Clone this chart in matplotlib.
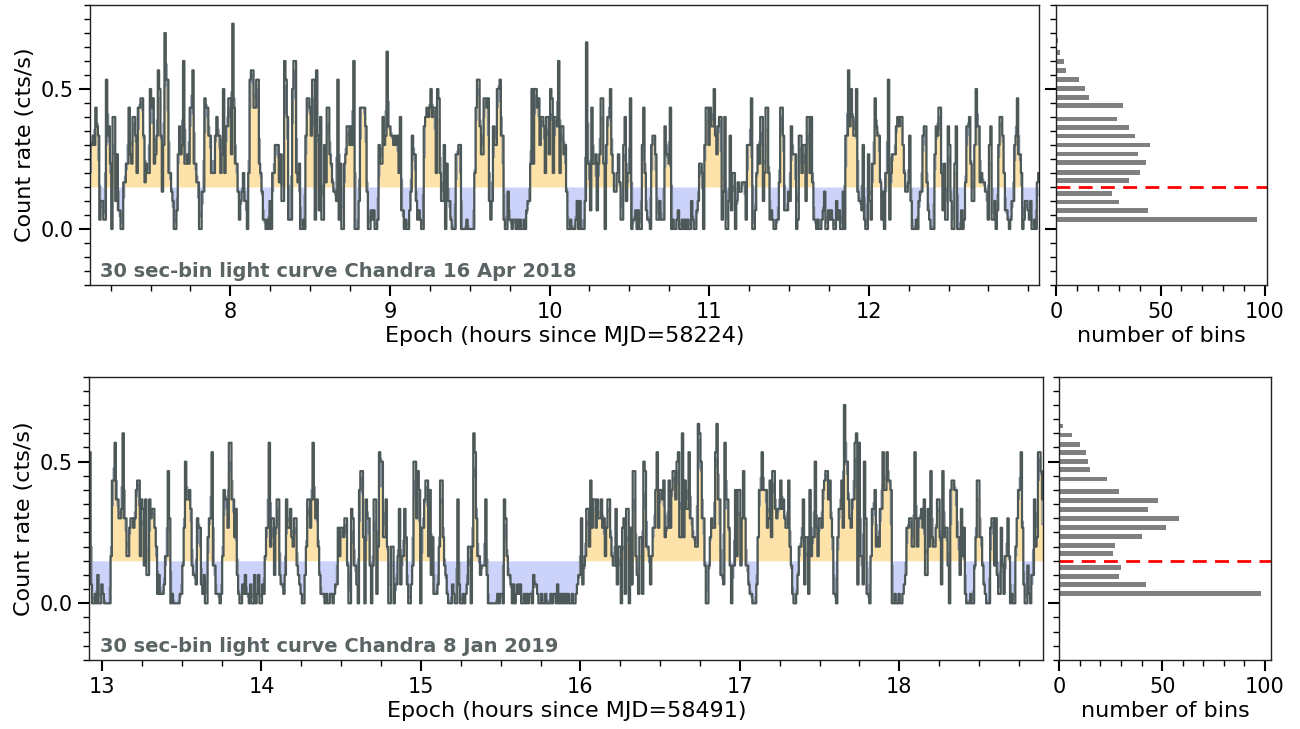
import numpy as np
import matplotlib
matplotlib.use('Agg')
import matplotlib.pyplot as plt
from matplotlib.ticker import MultipleLocator, FixedLocator

# photon counts per 30 s bin, one base-36 digit per bin (0-9, a=10 ... m=22)
apr2018_counts = (
    "99a9 dba 13311 gab70 cc382200 5577 d87cca6 ddeea5766 fde78ahf a49lgg6643 0028b89 i7787ddh77 550044edd "
    "aa666acaa68 f6bbee8md77 413463306 ghhddgg7641 1010306699 "
    "95833 igc11 1fii6 57001 0aeed agg1h a2c11 95dd8 75443 g1700 78bb9 b9i00 03ddd db400 21200 1977c 9ajbb "
    "aa9a9 a6c22 01002 4a883 12100 bcdcd fcdd6 fe633 90733 10008 89900 00100 "
    "0006d ggb88 eede3 13b99 ffgaa 10041 10110 10100 10233 7f7ff de9cc b6cc8 fe6cc bi6bb 89400 10001 30300 "
    "03k77 2d778 278ee 709cc f8644 68511 9c366 e0112 02009 d6211 09aa8 11311 "
    "1b887 d0100 12001 01010 03100 23776 09dd9 dbbfa 8bcc1 4c003 a2660 35445 55199 9e002 697cc 36dd6 12100 "
    "115dd a2224 3b888 01aa6 993cc 6c511 01001 24002 12100 31200 40aah bfcaa "
    "f4332 91008 3177e baa51 4066g 16888 bcbcc 96445 a3000 10344 abb52 10008 badd6 2711b 93007 b0002 015bb "
    "c7339 fbb56 55441 9b113 029cc a6221 01339 ae886 01332 13001 056"
)
jan2019_counts = (
    "g2001 03002 10000 05ddh bb99a i9955 89989 cdd5b a4b33 b9aa8 61311 1255e 90100 00011 48fbb ca433 29882 "
    "13007 99g44 11101 5cbb8 hhbb7 a3100 21311 02003 01300 21588 h6993 8b "
    "b3221 3b88a 76994 32100 36bb8 bhb9b 63111 01001 10122 85887 99400 a9442 0cee7 0b994 04bb1 6gff7 7b600 "
    "66022 5a255 a7200 24ff9 ec088 bdd5c 37111 26dd7 43100 02100 b2001 01266 "
    "06ig9 55344 4b300 00000 10110 b9533 20201 21200 10101 10322 10010 01000 10110 20101 01010 01001 23392 "
    "45aa6 d8bb8 b99b8 958bb 7544a 26608 91aa0 82ee5 31771 fe665 2588c g8ccb "
    "d788d 8ceeb fg77i 7daag 99776 6jif9 94004 7988g jbb33 2hbb8 4044c 5cc49 e9442 11000 27ccg ccc89 d7eea "
    "9aada b988d 64100 13667 b2771 c577f 85998 cdeeb d9711 07aad 8lffb 98bbh "
    "i2h55 2f911 05aac 676aa gccgd dc001 00100 12388 9966g 9699a 8b33a 6e766 8bb72 e7884 0cddc c773a 58100 "
    "01004 7dd77 42100 08994 93118 41559 50100 69ccg 82004 1033b 67gge b"
)

# start of each light curve, hours since the reference MJD
apr2018_start = 7.12
jan2019_start = 12.92
apr2018_hours = [8, 9, 10, 11, 12]
jan2019_hours = [13, 14, 15, 16, 17, 18]

# histogram of the count rates: rate level (cts/s) and number of bins
apr2018_hist_rate = [0.034, 0.067, 0.096, 0.127, 0.173, 0.203, 0.237, 0.268, 0.300, 0.332,
                     0.362, 0.393, 0.442, 0.470, 0.502, 0.534, 0.567, 0.597, 0.630, 0.673]
apr2018_hist_n = [96, 44, 30, 27, 35, 40, 43, 39, 45, 38, 35, 29, 32, 16, 14, 11, 5, 4, 2, 1]
jan2019_hist_rate = [0.034, 0.066, 0.095, 0.126, 0.175, 0.204, 0.236, 0.268, 0.299, 0.331,
                     0.363, 0.394, 0.439, 0.471, 0.502, 0.532, 0.562, 0.594, 0.626]
jan2019_hist_n = [98, 42, 29, 30, 26, 27, 40, 52, 58, 43, 48, 29, 23, 15, 14, 13, 10, 6, 2]

threshold = 0.15
bin_sec = 30.0

labels = ['30 sec-bin light curve Chandra 16 Apr 2018',
          '30 sec-bin light curve Chandra 8 Jan 2019']
xlabels = ['Epoch (hours since MJD=58224)', 'Epoch (hours since MJD=58491)']

line_col = '#4d5858'
edge_col = '#8793a4'
hi_col = '#fde3a9'
lo_col = '#ccd3fa'
bar_col = '#808080'
text_col = '#5a6464'


def decode(s):
    return np.array([int(c, 36) for c in ''.join(s.split())])


def style_ticks(ax):
    ax.tick_params(which='major', length=8, width=1.5, labelsize=15, direction='out', pad=4)
    ax.tick_params(which='minor', length=4, width=1.0, direction='out')
    for sp in ax.spines.values():
        sp.set_linewidth(1.0)
        sp.set_color('#222222')


def light_curve(ax, counts, t0, hours, label, xlabel):
    rate = counts / bin_sec
    dt = bin_sec / 3600.0
    t = t0 + (np.arange(len(rate)) + 0.5) * dt
    smooth = np.convolve(rate, np.ones(3) / 3, mode='same')

    ax.fill_between(t, threshold, np.maximum(smooth, threshold), step='mid',
                    color=hi_col, lw=0)
    ax.fill_between(t, np.minimum(smooth, threshold), threshold, step='mid',
                    color=lo_col, lw=0)
    ax.step(t, smooth, where='mid', color=edge_col, lw=1.0)
    ax.step(t, rate, where='mid', color=line_col, lw=1.6)

    ax.set_xlim(t0, t0 + len(rate) * dt)
    ax.set_ylim(-0.2, 0.8)
    ax.yaxis.set_major_locator(MultipleLocator(0.5))
    ax.yaxis.set_minor_locator(MultipleLocator(0.05))
    ax.xaxis.set_major_locator(FixedLocator(hours))
    ax.xaxis.set_minor_locator(MultipleLocator(0.25))
    ax.set_ylabel('Count rate (cts/s)', fontsize=16)
    ax.set_xlabel(xlabel, fontsize=16, labelpad=3)
    ax.text(0.011, 0.028, label, transform=ax.transAxes, fontsize=14,
            fontweight='bold', color=text_col)
    style_ticks(ax)


def rate_hist(ax, rates, nbins):
    ax.barh(rates, nbins, height=0.017, color=bar_col)
    ax.axhline(threshold, color='red', lw=2, ls=(0, (5, 3)))
    ax.set_ylim(-0.2, 0.8)
    ax.set_xlim(0, max(nbins) * 1.05)
    ax.yaxis.set_major_locator(MultipleLocator(0.5))
    ax.yaxis.set_minor_locator(MultipleLocator(0.05))
    ax.xaxis.set_major_locator(MultipleLocator(50))
    ax.xaxis.set_minor_locator(MultipleLocator(10))
    ax.set_yticklabels([])
    ax.set_xlabel('number of bins', fontsize=16, labelpad=3)
    style_ticks(ax)


fig = plt.figure(figsize=(13, 7.29), dpi=100)
ax1 = fig.add_axes([0.0692, 0.6091, 0.7304, 0.3840])
ax2 = fig.add_axes([0.8123, 0.6091, 0.1621, 0.3840])
ax3 = fig.add_axes([0.0687, 0.0947, 0.7338, 0.3886])
ax4 = fig.add_axes([0.8148, 0.0947, 0.1629, 0.3886])

light_curve(ax1, decode(apr2018_counts), apr2018_start, apr2018_hours, labels[0], xlabels[0])
rate_hist(ax2, apr2018_hist_rate, apr2018_hist_n)
light_curve(ax3, decode(jan2019_counts), jan2019_start, jan2019_hours, labels[1], xlabels[1])
rate_hist(ax4, jan2019_hist_rate, jan2019_hist_n)

fig.savefig('out.png', dpi=100)
